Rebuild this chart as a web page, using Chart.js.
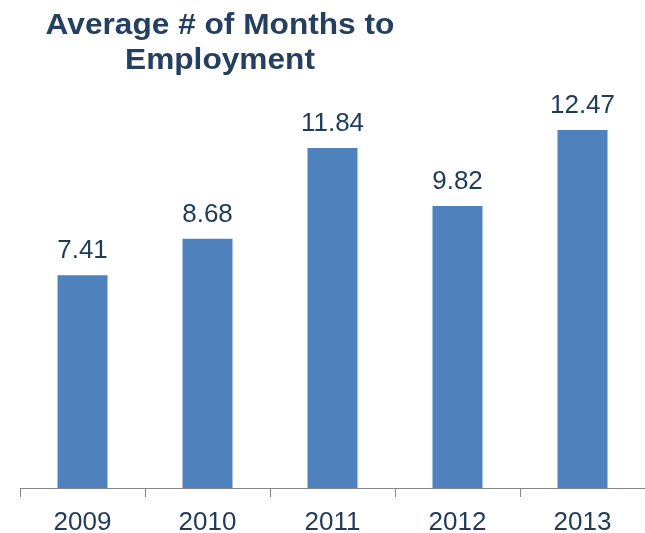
<!DOCTYPE html>
<html>
<head>
<meta charset="utf-8">
<script src="https://cdn.jsdelivr.net/npm/chart.js@4"></script>
<style>
  html, body { margin: 0; padding: 0; background: #fff; }
  #wrap { position: relative; width: 645px; height: 533px; }
  #grafico { display: block; }
  #titulo {
    position: absolute; left: 0; top: 6px; width: 440px;
    text-align: center; font: bold 30px "Liberation Sans", Arial, sans-serif;
    line-height: 35px; color: #243F60;
    transform: scaleX(1.055); transform-origin: 220px 0;
  }
</style>
</head>
<body>
<div id="wrap">
  <canvas id="grafico" width="645" height="533"></canvas>
  <div id="titulo">Average # of Months to<br>Employment</div>
</div>
<script>
const ctx = document.getElementById('grafico');

let anos = ['2009', '2010', '2011', '2012', '2013']
let meses = [7.41, 8.68, 11.84, 9.82, 12.47]

const corTexto = '#1F3B5C'
const corEixo = '#868686'

// escreve o valor em cima de cada barra
const rotulos = {
  id: 'rotulos',
  afterDatasetsDraw(chart) {
    const c = chart.ctx
    const meta = chart.getDatasetMeta(0)
    c.save()
    c.font = '26px "Liberation Sans", Arial, sans-serif'
    c.fillStyle = corTexto
    c.textAlign = 'center'
    c.textBaseline = 'alphabetic'
    meta.data.forEach((barra, i) => {
      c.fillText(meses[i].toFixed(2), barra.x, barra.y - 17)
    })
    c.restore()
  }
}

let grafico = new Chart(ctx, {
  type: 'bar',
  data: {
    labels: anos,
    datasets: [{
      data: meses,
      backgroundColor: '#4F81BD',
      borderWidth: 0,
      categoryPercentage: 1,
      barPercentage: 0.4
    }]
  },
  options: {
    responsive: false,
    animation: false,
    layout: { padding: { left: 20, right: 0, top: 86, bottom: 1 } },
    plugins: {
      legend: { display: false },
      tooltip: { enabled: false }
    },
    scales: {
      x: {
        afterFit: (escala) => { escala.height = 44 },
        grid: { drawOnChartArea: false, drawTicks: true, tickLength: 9, color: corEixo, offset: true },
        border: { color: corEixo, width: 1 },
        ticks: {
          padding: 13,
          color: corTexto,
          font: { family: '"Liberation Sans", Arial, sans-serif', size: 26, lineHeight: 1 }
        }
      },
      y: {
        display: false,
        min: 0,
        max: 14
      }
    }
  },
  plugins: [rotulos]
});
</script>
</body>
</html>
